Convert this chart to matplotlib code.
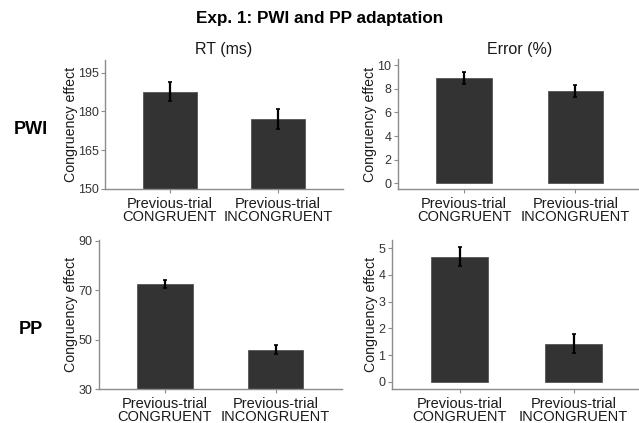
import numpy as np
import matplotlib
matplotlib.use("Agg")
import matplotlib.pyplot as plt

plt.rcParams["font.family"] = ["Liberation Sans", "DejaVu Sans"]

# ---- data ----
conds = ["Previous-trial\nCONGRUENT", "Previous-trial\nINCONGRUENT"]
pwi_rt = [187.7, 177.0]
pwi_rt_se = [3.8, 3.85]
pwi_err = [8.93, 7.82]
pwi_err_se = [0.49, 0.52]
pp_rt = [72.5, 45.9]
pp_rt_se = [1.5, 1.8]
pp_err = [4.69, 1.43]
pp_err_se = [0.37, 0.37]

W, H = 639, 423
fig = plt.figure(figsize=(W / 100, H / 100), dpi=100)


def px_axes(x0, x1, y0, y1):
    # pixel box (from top-left) -> figure fraction
    return fig.add_axes([x0 / W, 1 - y1 / H, (x1 - x0) / W, (y1 - y0) / H])


AXC = "#8c8c8c"
TXT = "#333333"


def panel(ax, vals, se, ylim, ticks, title=None):
    xs = np.arange(1, len(vals) + 1)
    ax.bar(xs, vals, width=0.5, color="#333333", edgecolor="#555555", lw=0.6, zorder=2)
    ax.errorbar(xs, vals, yerr=se, fmt="none", ecolor="black", elinewidth=1.6,
                capsize=1.5, capthick=1.2, zorder=3)
    ax.set_xlim(0.4, 2.6)
    ax.set_ylim(*ylim)
    ax.set_yticks(ticks)
    ax.set_xticks(xs)
    ax.set_xticklabels(conds, fontsize=10.5, color="#1a1a1a", linespacing=0.95)
    ax.tick_params(axis="y", labelsize=9, labelcolor=TXT, color=AXC, length=3, pad=1.5)
    ax.tick_params(axis="x", color=AXC, length=3, pad=2.5)
    for s in ("top", "right"):
        ax.spines[s].set_visible(False)
    for s in ("left", "bottom"):
        ax.spines[s].set_color(AXC)
        ax.spines[s].set_linewidth(1.0)
    ax.set_ylabel("Congruency effect", fontsize=10.2, color="#1a1a1a", labelpad=0)
    if title:
        ax.set_title(title, fontsize=11.5, color="#1a1a1a", pad=4)


ax1 = px_axes(105, 343, 59.8, 189)
panel(ax1, pwi_rt, pwi_rt_se, (150, 200), [150, 165, 180, 195], "RT (ms)")
ax2 = px_axes(397.5, 642, 59.3, 189)
panel(ax2, pwi_err, pwi_err_se, (-0.48, 10.5), [0, 2, 4, 6, 8, 10], "Error (%)")
ax3 = px_axes(98.5, 342, 240, 389)
panel(ax3, pp_rt, pp_rt_se, (30, 90.3), [30, 50, 70, 90])
ax4 = px_axes(391.5, 642, 240, 389)
panel(ax4, pp_err, pp_err_se, (-0.27, 5.31), [0, 1, 2, 3, 4, 5])

fig.text(320 / W, 1 - 18 / H, "Exp. 1: PWI and PP adaptation", ha="center", va="center",
         fontsize=12.3, fontweight="bold")
fig.text(31 / W, 1 - 130 / H, "PWI", ha="center", va="center", fontsize=13, fontweight="bold")
fig.text(31 / W, 1 - 329 / H, "PP", ha="center", va="center", fontsize=13, fontweight="bold")

fig.savefig("out.png", dpi=100, facecolor="white")
